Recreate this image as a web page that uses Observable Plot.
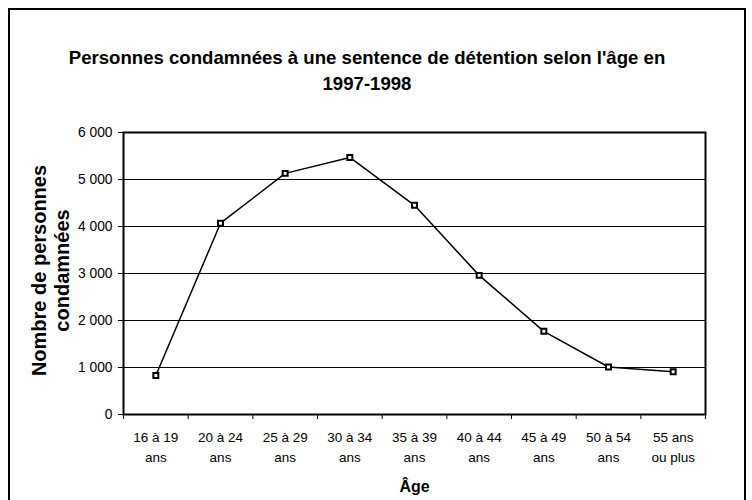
<!DOCTYPE html>
<html><head><meta charset="utf-8">
<script src="https://cdn.jsdelivr.net/npm/d3@7"></script>
<script src="https://cdn.jsdelivr.net/npm/@observablehq/plot@0.6"></script>
<style>
body{margin:0;background:#fff;font-family:"Liberation Sans",Arial,sans-serif;}
#wrap{position:relative;width:752px;height:500px;overflow:hidden;background:#fff;}
#border{position:absolute;left:8px;top:8px;width:738px;height:600px;border:2px solid #000;box-sizing:border-box;pointer-events:none;z-index:5;}
#title{position:relative;height:110px;box-sizing:border-box;padding-top:45px;padding-right:18px;text-align:center;font-weight:bold;font-size:18.6px;line-height:26px;color:#000;}
#chart{position:relative;}
</style></head><body>
<div id="wrap"><div id="border"></div>
<div id="title">Personnes condamnées à une sentence de détention selon l'âge en<br>1997-1998</div>
<div id="chart"></div></div>
<script>
const categories = ["16 à 19\nans", "20 à 24\nans", "25 à 29\nans", "30 à 34\nans", "35 à 39\nans", "40 à 44\nans", "45 à 49\nans", "50 à 54\nans", "55 ans\nou plus"];
const values = [830, 4070, 5130, 5470, 4450, 2960, 1770, 1010, 910];
const yTicks = [0, 1000, 2000, 3000, 4000, 5000, 6000];
const gridValues = [1000, 2000, 3000, 4000, 5000];
const yTitle = "Nombre de personnes\ncondamnées";
const xTitle = "Âge";

const data = categories.map((c, i) => ({i, label: c, value: values[i]}));
const boundaries = d3.range(categories.length + 1).map(k => k - 0.5);
const fmt = v => d3.format(",")(v).replace(/,/g, " ");

const chart = Plot.plot({
  width: 752,
  height: 390,
  marginLeft: 123,
  marginRight: 47,
  marginTop: 22,
  marginBottom: 86,
  style: {fontFamily: "'Liberation Sans', Arial, sans-serif", fontSize: "13.5px", color: "#000", background: "transparent", overflow: "visible"},
  x: {type: "linear", domain: [-0.5, categories.length - 0.5]},
  y: {domain: [0, 6000]},
  marks: [
    Plot.ruleY(gridValues, {stroke: "#000", strokeWidth: 1}),
    Plot.axisY({ticks: yTicks, tickSize: 5, tickPadding: 6, tickFormat: fmt, label: null, fontSize: 13.8, stroke: "#000"}),
    Plot.axisX({ticks: boundaries, tickSize: 5, tickFormat: () => "", label: null, stroke: "#000"}),
    Plot.text(data, {x: "i", text: "label", frameAnchor: "bottom", lineAnchor: "top", dy: 14, lineHeight: 1.45, fontSize: 13.5, fill: "#000"}),
    Plot.text([yTitle], {frameAnchor: "left", textAnchor: "middle", lineAnchor: "middle", rotate: -90, dx: -73, dy: -3, fontWeight: "bold", fontSize: 20, lineHeight: 1.15, fill: "#000"}),
    Plot.text([xTitle], {frameAnchor: "bottom", lineAnchor: "middle", dy: 72, fontWeight: "bold", fontSize: 16, fill: "#000"}),
    Plot.frame({stroke: "#000", strokeWidth: 2}),
    Plot.line(data, {x: "i", y: "value", stroke: "#000", strokeWidth: 1.5}),
    Plot.dot(data, {x: "i", y: "value", symbol: "square", r: 2.8, fill: "#fff", stroke: "#000", strokeWidth: 2})
  ]
});
document.getElementById("chart").appendChild(chart);
</script>
</body></html>
